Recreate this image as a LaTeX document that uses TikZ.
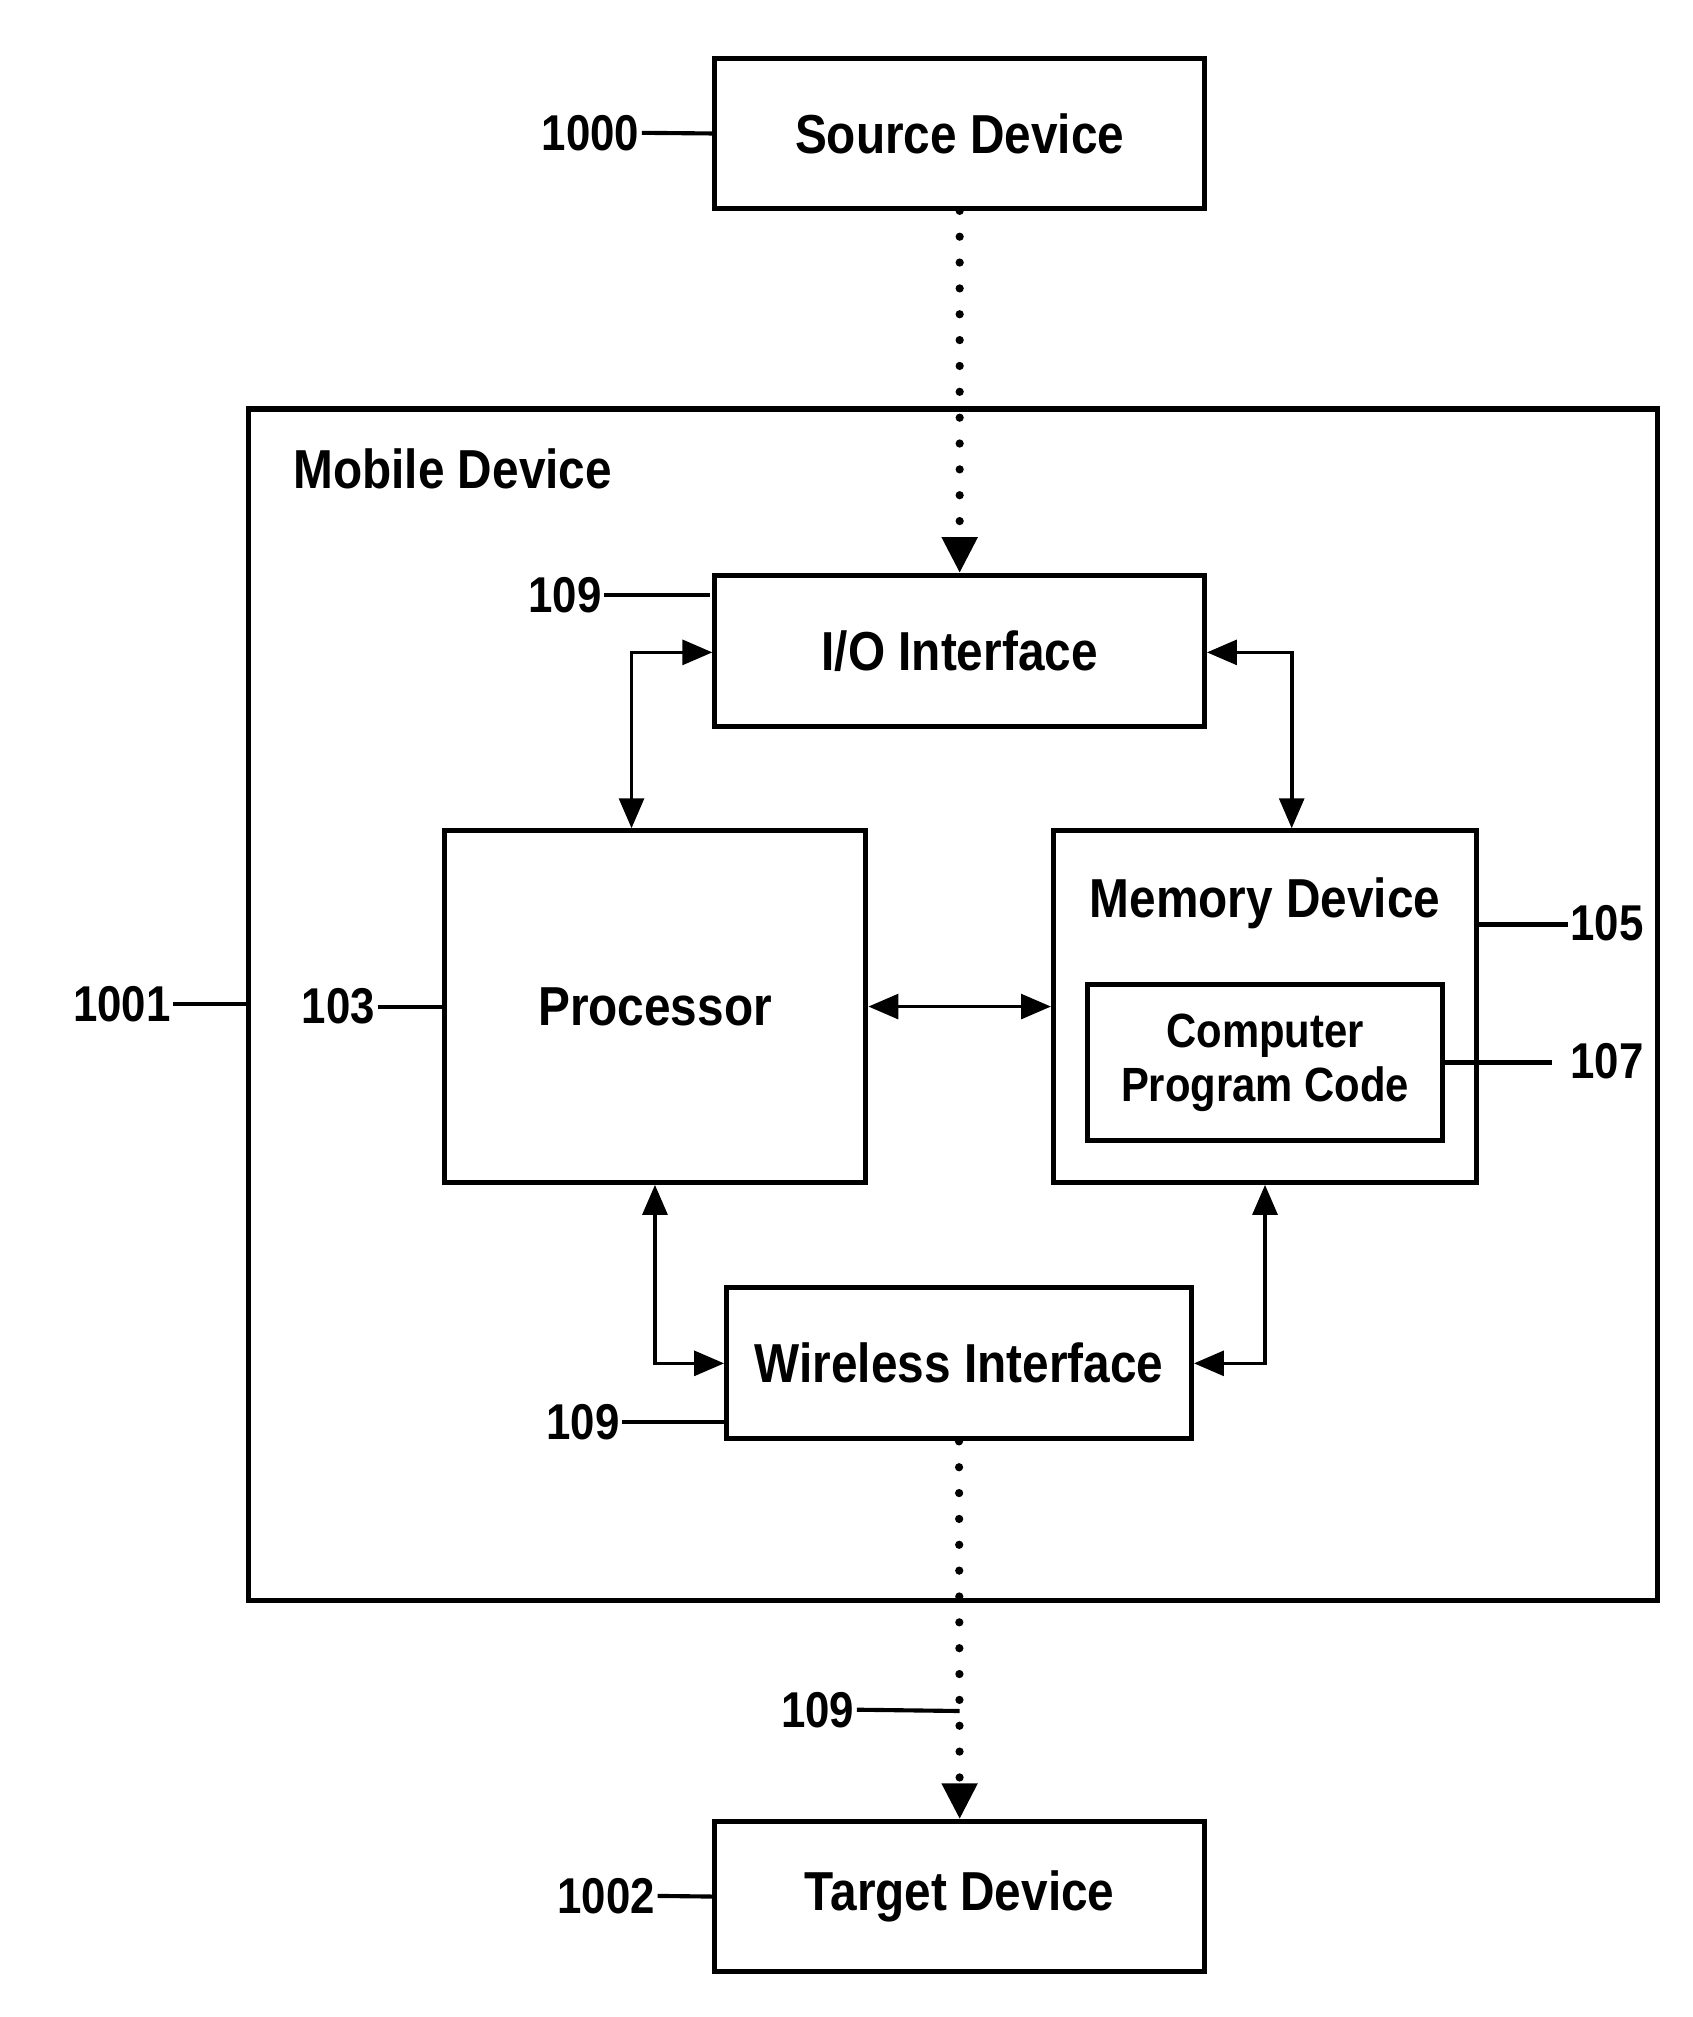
\documentclass[tikz,border=0pt]{standalone}
\usepackage{fontspec}
\setmainfont[FakeStretch=0.87]{Liberation Sans}
\usetikzlibrary{arrows.meta}

\begin{document}
\begin{tikzpicture}[x=0.02cm,y=-0.02cm,
		blockbox/.style={draw,line width=2.2pt,inner sep=0pt,font=\fontsize{24}{28}\selectfont\bfseries},
		reflabel/.style={inner sep=1pt,font=\fontsize{22}{26}\selectfont\bfseries},
		leader/.style={line width=1.8pt},
		link/.style={line width=1.6pt,{Triangle[length=0.46cm,width=0.38cm]}-{Triangle[length=0.46cm,width=0.38cm]}},
		dotlink/.style={line width=3.6pt,line cap=round,dash pattern=on 0pt off 11.3pt,-{Triangle[length=0.55cm,width=0.52cm]}}]
		\useasboundingbox[fill=white] (0,0) rectangle (1300,1549);

		% outer box
		\node[blockbox,minimum width=21.64cm,minimum height=18.3cm] (mobile) at (732,771.5) {};
		\node[anchor=west,font=\fontsize{24}{28}\selectfont\bfseries,inner sep=0pt] (mobtitle) at (225,360) {Mobile Device};

		% blocks
		\node[blockbox,minimum width=7.52cm,minimum height=2.3cm] (src) at (737,102.5) {Source Device};
		\node[blockbox,minimum width=7.52cm,minimum height=2.32cm] (io) at (737,500) {I/O Interface};
		\node[blockbox,minimum width=6.48cm,minimum height=5.4cm] (proc) at (503,773) {Processor};
		\node[blockbox,minimum width=6.5cm,minimum height=5.4cm] (mem) at (971.5,773) {};
		\node[font=\fontsize{24}{28}\selectfont\bfseries,inner sep=0pt] (memtitle) at (971.5,694) {Memory Device};
		\node[blockbox,minimum width=5.46cm,minimum height=2.4cm,align=center,font=\fontsize{21}{23.5}\selectfont\bfseries] (code) at (971.5,816) {Computer\\Program Code};
		\node[blockbox,minimum width=7.14cm,minimum height=2.32cm] (wifi) at (736.5,1047) {Wireless Interface};
		\node[blockbox,minimum width=7.52cm,minimum height=2.3cm] (tgt) at (737,1456.5) {Target Device};

		% reference numbers
		\node[reflabel,anchor=east] (l1000) at (493,102) {1000};
		\node[reflabel,anchor=east] (l1001) at (133,771) {1001};
		\node[reflabel,anchor=east] (l109a) at (464,457) {109};
		\node[reflabel,anchor=east] (l103) at (290,773) {103};
		\node[reflabel,anchor=west] (l105) at (1204,709) {105};
		\node[reflabel,anchor=west] (l107) at (1204,815) {107};
		\node[reflabel,anchor=east] (l109b) at (478,1092) {109};
		\node[reflabel,anchor=east] (l109c) at (658,1313) {109};
		\node[reflabel,anchor=east] (l1002) at (505,1456) {1002};

		\coordinate (ioref) at (545,457);
		\coordinate (memref) at (1204,710);
		\coordinate (coderef) at (1192,816);
		\coordinate (wifiref) at (558,1092);
		\coordinate (dotref) at (737,1314);

		\draw[leader] (l1000.east) -- (src.west);
		\draw[leader] (l1001.east) -- (mobile.west |- l1001.east);
		\draw[leader] (l109a.east) -- (ioref);
		\draw[leader] (l103.east) -- (proc.west);
		\draw[leader] (mem.east |- memref) -- (memref);
		\draw[leader] (code.east |- coderef) -- (coderef);
		\draw[leader] (l109b.east) -- (wifiref);
		\draw[leader] (l109c.east) -- (dotref);
		\draw[leader] (l1002.east) -- (tgt.west);

		% connectors
		\draw[dotlink] (src.south) -- (io.north);
		\draw[dotlink] (wifi.south) -- (tgt.north);
		\draw[link] ([yshift=-0.02cm]io.west) -| ([xshift=-0.36cm]proc.north);
		\draw[link] ([yshift=-0.02cm]io.east) -| ([xshift=0.41cm]mem.north);
		\draw[link] (proc.east) -- (mem.west);
		\draw[link] (proc.south) |- (wifi.west);
		\draw[link] (mem.south) |- (wifi.east);
	\end{tikzpicture}
\end{document}
